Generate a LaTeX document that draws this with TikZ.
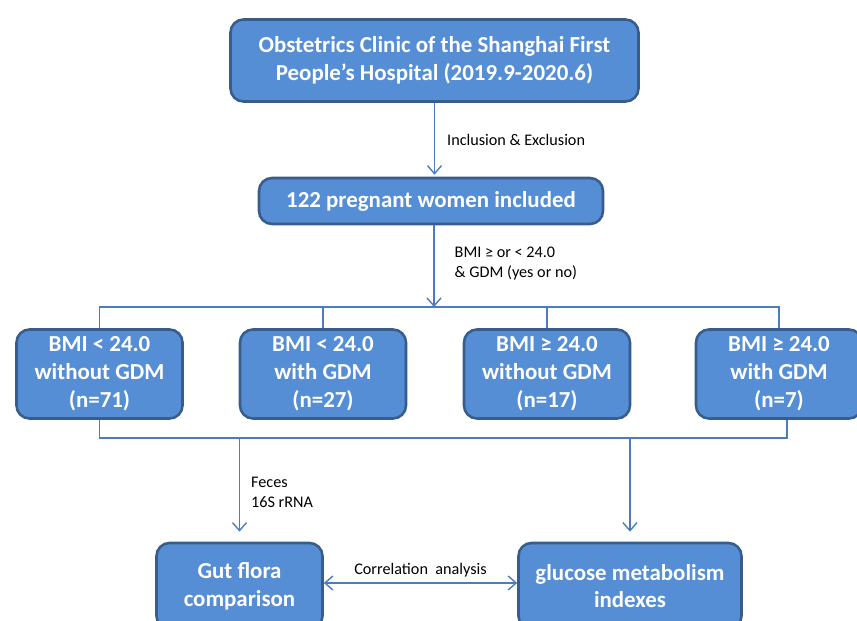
\documentclass[tikz,border=0pt]{standalone}
\usepackage{fontspec}
\setmainfont{Carlito}
\usepackage{xcolor}
\definecolor{boxblue}{RGB}{85,142,213}
\definecolor{boxedge}{RGB}{56,93,138}
\definecolor{linkblue}{RGB}{74,126,187}
\usetikzlibrary{arrows.meta, positioning}

\tikzset{
  stagebox/.style={draw=boxedge, line width=2.6pt, fill=boxblue, rounded corners=13pt,
    text=white, font=\fontsize{22.9}{27.8}\selectfont\bfseries, align=center, inner sep=0pt},
  groupbox/.style={stagebox, minimum width=166pt, minimum height=89pt},
  link/.style={draw=linkblue, line width=1.4pt},
  flow/.style={-{Straight Barb[length=8pt,width=14pt]}},
  note/.style={font=\fontsize{16.2}{20}\selectfont, align=left, text=black, inner sep=0pt},
}

\begin{document}
\begin{tikzpicture}[x=1pt, y=-1pt]
  \useasboundingbox (0,0) rectangle (857,621);

  % --- Source and cohort ---
  \node[stagebox, minimum width=408pt, minimum height=82pt] (clinic) at (434.5,60.5)
    {Obstetrics Clinic of the Shanghai First\\People’s Hospital (2019.9-2020.6)};
  \node[stagebox, minimum width=344pt, minimum height=46pt] (women) at (431,201)
    {122 pregnant women included};

  % --- Four groups ---
  \node[groupbox] (g1) at (99.5,374) {BMI < 24.0\\without GDM\\(n=71)};
  \node[groupbox] (g2) at (323,374)  {BMI < 24.0\\with GDM\\(n=27)};
  \node[groupbox] (g3) at (547,374)  {BMI ≥ 24.0\\without GDM\\(n=17)};
  \node[groupbox] (g4) at (779,374)  {BMI ≥ 24.0\\with GDM\\(n=7)};

  % --- Outcomes ---
  \node[stagebox, minimum width=166pt, minimum height=86pt] (gut) at (239.5,586)
    {Gut flora\\comparison};
  \node[stagebox, minimum width=223pt, minimum height=86pt] (glucose) at (630,586)
    {glucose metabolism\\indexes};

  % Bus points
  \coordinate (splitT) at (434,307);
  \coordinate (joinB) at (434,438);

  % Connectors
  \draw[link, flow, shorten >=2pt] (clinic.south) -- (clinic.south |- women.north)
    node[note, midway, right=12pt] {Inclusion \& Exclusion};
  \draw[link, flow] (women.south -| splitT) -- (splitT)
    node[note, midway, right=20pt, yshift=3pt] {BMI ≥ or < 24.0\\\& GDM (yes or no)};
  \draw[link] (g1.north) |- (splitT) -| (g4.north);
  \draw[link] (g2.north) -- (g2.north |- splitT);
  \draw[link] (g3.north) -- (g3.north |- splitT);

  \draw[link] (g1.south) |- (joinB) -| ([xshift=8pt]g4.south);
  \draw[link, flow, shorten >=10pt] (gut.north |- joinB) -- (gut.north)
    node[note, midway, right=11pt, yshift=-3pt] {Feces\\16S rRNA};
  \draw[link, flow, shorten >=10pt] (glucose.north |- joinB) -- (glucose.north);

  \draw[link, {Straight Barb[length=8pt,width=14pt]}-{Straight Barb[length=8pt,width=14pt]}]
    ([yshift=3pt]gut.east) -- ([yshift=3pt]gut.east -| glucose.west)
    node[note, midway, above=5pt] {Correlation\ \ analysis};
\end{tikzpicture}
\end{document}
